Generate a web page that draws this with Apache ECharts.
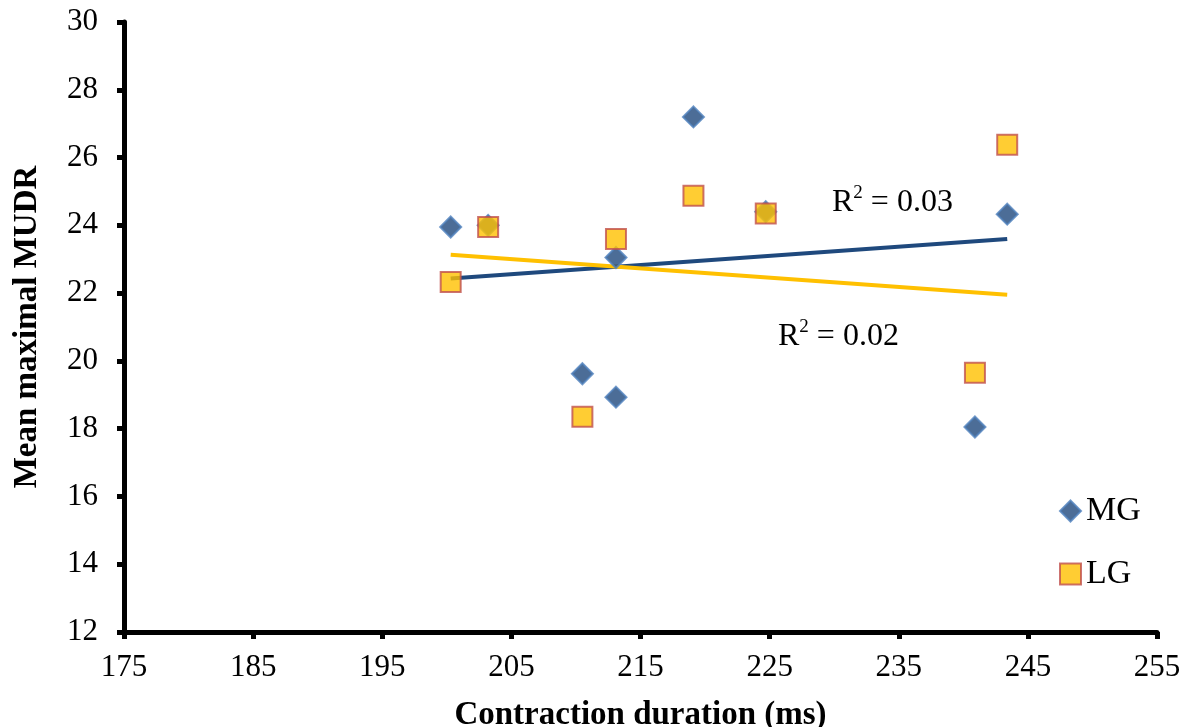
<!DOCTYPE html>
<html lang="en">
<head>
    <meta charset="UTF-8">
    <script src="https://cdn.jsdelivr.net/npm/echarts@6/dist/echarts.min.js"></script>
    <title>MUDR vs contraction duration</title>
    <style>
        body { margin: 0; background: #fff; }
    </style>
</head>
<body>
    <div id="main" style="width: 1184px;height:727px;"></div>

    <script type="text/javascript">
        // values
        var mgDuration = [200.3, 203.2, 210.5, 213.1, 213.1, 219.1, 224.7, 240.9, 243.4];
        var mgMudr     = [23.95, 24.0, 19.62, 23.05, 18.93, 27.2, 24.4, 18.05, 24.33];
        var lgDuration = [200.3, 203.2, 210.5, 213.1, 219.1, 224.7, 240.9, 243.4];
        var lgMudr     = [22.33, 23.95, 18.35, 23.6, 24.87, 24.35, 19.65, 26.38];
        // linear trend line end points
        var mgTrendX = [200.3, 243.4];
        var mgTrendY = [22.43, 23.6];
        var lgTrendX = [200.3, 243.4];
        var lgTrendY = [23.13, 21.95];

        function pairs(xs, ys) {
            return xs.map(function (x, i) { return [x, ys[i]]; });
        }

        var serif = '"Liberation Serif", "DejaVu Serif", serif';
        var myChart = echarts.init(document.getElementById('main'));

        var rTextStyle = {
            b: { fontFamily: serif, fontSize: 32, fill: '#000', verticalAlign: 'bottom' },
            s: { fontFamily: serif, fontSize: 19, fill: '#000', verticalAlign: 'top', padding: [0, 0, 16, 0] }
        };

        var option = {
            backgroundColor: '#fff',
            animation: false,
            grid: { left: 124, right: 27, top: 22, bottom: 95, outerBoundsMode: 'none' },
            legend: {
                data: ['MG', 'LG'],
                orient: 'vertical',
                left: 1054,
                top: 489,
                itemGap: 29,
                itemWidth: 21,
                itemHeight: 21,
                textStyle: { fontFamily: serif, fontSize: 34, color: '#000', padding: [0, 0, 0, 0] }
            },
            xAxis: {
                type: 'value',
                min: 175,
                max: 255,
                interval: 10,
                name: 'Contraction duration (ms)',
                nameLocation: 'middle',
                nameGap: 67,
                nameTextStyle: { fontFamily: serif, fontSize: 33, fontWeight: 'bold', color: '#000' },
                axisLine: { lineStyle: { color: '#000', width: 5 } },
                axisTick: { show: true, length: 7, lineStyle: { color: '#000', width: 5 } },
                axisLabel: { fontFamily: serif, fontSize: 31, color: '#000', margin: 20 },
                splitLine: { show: false }
            },
            yAxis: {
                type: 'value',
                min: 12,
                max: 30,
                interval: 2,
                name: 'Mean maximal MUDR',
                nameLocation: 'middle',
                nameGap: 80,
                nameTextStyle: { fontFamily: serif, fontSize: 33, fontWeight: 'bold', color: '#000' },
                axisLine: { show: true, lineStyle: { color: '#000', width: 5 } },
                axisTick: { show: true, length: 7, lineStyle: { color: '#000', width: 5 } },
                axisLabel: { fontFamily: serif, fontSize: 31, color: '#000', margin: 26 },
                splitLine: { show: false }
            },
            series: [
                {
                    name: 'MG trend',
                    type: 'line',
                    data: pairs(mgTrendX, mgTrendY),
                    symbol: 'none',
                    lineStyle: { color: '#1F497D', width: 4 },
                    z: 1
                },
                {
                    name: 'LG trend',
                    type: 'line',
                    data: pairs(lgTrendX, lgTrendY),
                    symbol: 'none',
                    lineStyle: { color: '#FFC000', width: 4 },
                    z: 1
                },
                {
                    name: 'MG',
                    type: 'scatter',
                    data: pairs(mgDuration, mgMudr),
                    symbol: 'diamond',
                    symbolSize: 21,
                    itemStyle: { color: '#1F497D', borderColor: '#4F81BD', borderWidth: 2 },
                    z: 3
                },
                {
                    name: 'LG',
                    type: 'scatter',
                    data: pairs(lgDuration, lgMudr),
                    symbol: 'rect',
                    symbolSize: 20,
                    itemStyle: { color: '#FFC000', borderColor: '#C0504D', borderWidth: 2 },
                    z: 4
                }
            ],
            graphic: [
                {
                    type: 'text',
                    left: 832,
                    top: 184,
                    style: { text: '{b|R}{s|2}{b| = 0.03}', rich: rTextStyle }
                },
                {
                    type: 'text',
                    left: 778,
                    top: 318,
                    style: { text: '{b|R}{s|2}{b| = 0.02}', rich: rTextStyle }
                }
            ]
        };

        myChart.setOption(option);
    </script>
</body>
</html>
